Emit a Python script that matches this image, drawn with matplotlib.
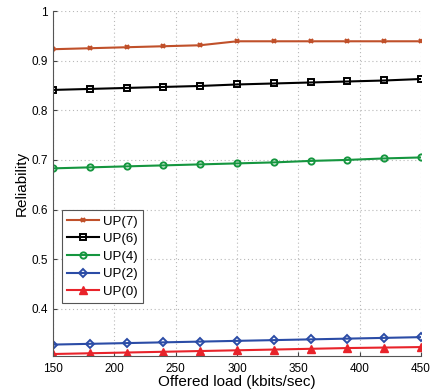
import matplotlib
matplotlib.use('Agg')
import matplotlib.pyplot as plt

plt.rcParams['font.family'] = ['Liberation Sans', 'DejaVu Sans']

# offered load (kbits/sec)
load = [150, 180, 210, 240, 270, 300, 330, 360, 390, 420, 450]

# reliability for each user priority
up7 = [0.923, 0.925, 0.927, 0.929, 0.931, 0.939, 0.939, 0.939, 0.939, 0.939, 0.939]
up6 = [0.841, 0.843, 0.845, 0.847, 0.849, 0.852, 0.854, 0.856, 0.858, 0.860, 0.863]
up4 = [0.683, 0.685, 0.687, 0.689, 0.691, 0.693, 0.695, 0.698, 0.700, 0.703, 0.705]
up2 = [0.328, 0.3295, 0.331, 0.3325, 0.334, 0.3355, 0.337, 0.3385, 0.340, 0.3415, 0.343]
up0 = [0.309, 0.3105, 0.312, 0.3135, 0.315, 0.3165, 0.318, 0.3195, 0.321, 0.322, 0.323]

labels = ['UP(7)', 'UP(6)', 'UP(4)', 'UP(2)', 'UP(0)']

fig = plt.figure(figsize=(4.37, 3.92), dpi=100)
ax = fig.add_axes([53/437, 1 - 356/392, 368/437, 345/392])

ax.plot(load, up7, color='#c0502a', marker='x', markersize=3.5, mew=1.5, lw=1.5, label=labels[0])
ax.plot(load, up6, color='black', marker='s', markersize=4.5, mfc='none', mew=1.4, lw=1.5, label=labels[1])
ax.plot(load, up4, color='#15963f', marker='o', markersize=4.5, mfc='none', mew=1.4, lw=1.5, label=labels[2])
ax.plot(load, up2, color='#2b4ca6', marker='D', markersize=4, mfc='none', mew=1.4, lw=1.5, label=labels[3])
ax.plot(load, up0, color='#e8232a', marker='^', markersize=5.5, lw=1.5, label=labels[4])

ax.set_xlim(150, 450)
ax.set_ylim(0.305, 1)
ax.set_xticks([150, 200, 250, 300, 350, 400, 450])
ax.set_yticks([0.4, 0.5, 0.6, 0.7, 0.8, 0.9, 1])
ax.set_yticklabels(['0.4', '0.5', '0.6', '0.7', '0.8', '0.9', '1'])
ax.tick_params(direction='in', labelsize=8.5, length=3, color='#444444')
ax.tick_params(axis='x', pad=5)
ax.grid(True, linestyle=(0, (1, 2.5)), color='#b8b8b8', lw=0.8)
ax.spines['top'].set_visible(False)
ax.spines['right'].set_visible(False)
ax.spines['left'].set_color('#555555')
ax.spines['bottom'].set_color('#555555')

ax.set_xlabel('Offered load (kbits/sec)', fontsize=11, labelpad=0)
ax.set_ylabel('Reliability', fontsize=11, labelpad=2)

leg = ax.legend(loc='upper left', bbox_to_anchor=(0.024, 0.423), fontsize=9.5,
                fancybox=False, framealpha=1, edgecolor='#555555',
                handlelength=2.4, borderaxespad=0, labelspacing=0.4,
                handletextpad=0.3, borderpad=0.4)
leg.get_frame().set_linewidth(0.8)

fig.savefig('out.png', dpi=100)
